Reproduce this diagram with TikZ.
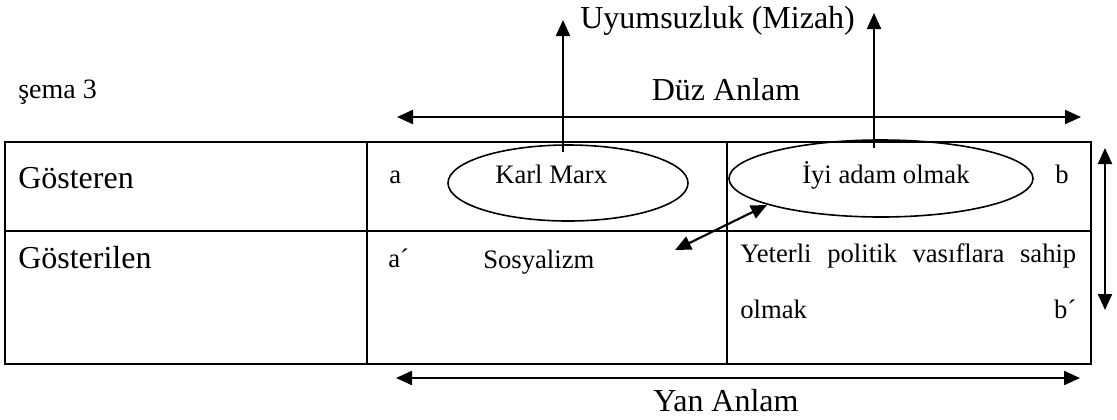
\documentclass[tikz,border=0pt]{standalone}
\usepackage{fontspec}
\setmainfont{Liberation Serif}
\usetikzlibrary{arrows.meta,shapes.geometric}
\begin{document}
\begin{tikzpicture}[x=0.75pt,y=-0.75pt,
  big/.style={font=\fontsize{24}{28}\selectfont, inner sep=0pt},
  sema/.style={font=\fontsize{21}{25}\selectfont, inner sep=0pt},
  cell/.style={font=\fontsize{20}{24}\selectfont, inner sep=0pt},
  grid/.style={line width=1.5pt},
  oval/.style={draw, ellipse, line width=1.2pt, inner sep=0pt},
  tip/.tip={Triangle[length=12pt,width=10.5pt]},
  arr/.style={line width=1.6pt, -tip},
  darr/.style={line width=1.6pt, tip-tip}]
\useasboundingbox (0,0) rectangle (1117,419);

% table
\coordinate (tl) at (5,142);
\coordinate (br) at (1091,364);
\coordinate (ml) at (5,231);
\coordinate (mr) at (1091,231);
\coordinate (c1t) at (367,142);
\coordinate (c1b) at (367,364);
\coordinate (c2t) at (727,142);
\coordinate (c2b) at (727,364);
\draw[grid] (tl) rectangle (br);
\draw[grid] (ml) -- (mr);
\draw[grid] (c1t) -- (c1b);
\draw[grid] (c2t) -- (c2b);

% ellipses
\node[oval, minimum width=180pt, minimum height=57pt] (km) at (568,183) {};
\node[oval, minimum width=228pt, minimum height=57.75pt] (iyi) at (881,178.5) {};

% texts
\node[sema, anchor=base west] (semat) at (18,98) {şema 3};
\node[big, anchor=base west] (uyum) at (580,28) {Uyumsuzluk (Mizah)};
\node[big, anchor=base] (duz) at (726,100) {Düz Anlam};
\node[big, anchor=base] (yan) at (726,411) {Yan Anlam};
\node[big, anchor=base west] (gos) at (18,188) {Gösteren};
\node[big, anchor=base west] (gosl) at (18,268) {Gösterilen};
\node[cell, anchor=base west] (a) at (389,183) {a};
\node[cell, anchor=base west] (kmt) at (495,183) {Karl Marx};
\node[cell, anchor=base west] (iyit) at (802,183) {İyi adam olmak};
\node[cell, anchor=base west] (b) at (1055,183) {b};
\node[cell, anchor=base west] (ap) at (388,267) {a´};
\node[cell, anchor=base west] (sos) at (483,268) {Sosyalizm};
\node[cell, anchor=base west] (yet1) at (740,262) {\makebox[252pt][s]{Yeterli\hfill politik\hfill vasıflara\hfill sahip}};
\node[cell, anchor=base west] (yet2) at (740,318) {\makebox[252pt][s]{olmak\hfill b´}};

% arrows
\coordinate (d1) at (397,117);
\coordinate (d2) at (1081,117);
\draw[darr] (d1) -- (d2);
\coordinate (y1) at (396,378);
\coordinate (y2) at (1080,378);
\draw[darr] (y1) -- (y2);
\coordinate (v1) at (1105,148);
\coordinate (v2) at (1105,310);
\draw[darr] (v1) -- (v2);
\coordinate (kmup) at (563,152);
\coordinate (u1) at (563,20);
\draw[arr] (kmup) -- (u1);
\coordinate (iyiup) at (874,148);
\coordinate (u2) at (874,13);
\draw[arr] (iyiup) -- (u2);
\coordinate (g1) at (767,205);
\coordinate (g2) at (675,250);
\draw[darr] (g1) -- (g2);
\end{tikzpicture}
\end{document}
